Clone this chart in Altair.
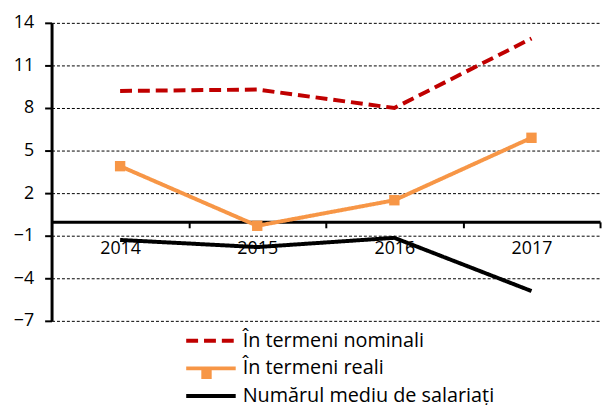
import altair as alt
import pandas as pd

years = ["2014", "2015", "2016", "2017"]
nominal = [9.2, 9.3, 8.0, 12.9]
real = [3.9, -0.3, 1.5, 5.9]
employees = [-1.3, -1.8, -1.15, -4.9]
series_names = ["În termeni nominali", "În termeni reali", "Numărul mediu de salariați"]
colors = ["#C00000", "#F79646", "#000000"]
dashes = [[12, 6], [1, 0], [1, 0]]
y_ticks = [-7, -4, -1, 2, 5, 8, 11, 14]

rows = []
for name, vals in zip(series_names, [nominal, real, employees]):
    for yr, v in zip(years, vals):
        rows.append({"year": yr, "value": v, "series": name})
df = pd.DataFrame(rows)

FONT = "Open Sans"
FS = 18
W, H = 554, 301

x_enc = alt.X(
    "year:N", title=None, sort=years,
    scale=alt.Scale(type="band", paddingInner=0, paddingOuter=0),
    axis=alt.Axis(
        orient="bottom", offset=-100, domainColor="black", domainWidth=3,
        tickColor="black", tickWidth=2, tickSize=6, tickBand="extent",
        labelAngle=0, labelFont=FONT, labelFontSize=FS, labelColor="black",
        labelPadding=12, grid=False,
    ),
)
y_enc = alt.Y(
    "value:Q", title=None,
    scale=alt.Scale(domain=[-7, 14], nice=False, zero=False),
    axis=alt.Axis(
        values=y_ticks, grid=True, gridDash=[3, 2], gridColor="black",
        gridWidth=1, gridOpacity=1, domainColor="black", domainWidth=3,
        tickColor="black", tickWidth=2, tickSize=7, labelFont=FONT,
        labelFontSize=FS, labelColor="black", labelPadding=11,
    ),
)

legend = alt.Legend(
    title=None, orient="none", legendX=151, legendY=311,
    labelFont=FONT, labelFontSize=20, labelColor="black", labelLimit=0,
    labelOffset=22, symbolSize=100, symbolStrokeWidth=4, rowPadding=8,
    symbolType="M-5,0H5",
)

lines = alt.Chart(df).mark_line(strokeWidth=4).encode(
    x=x_enc,
    y=y_enc,
    color=alt.Color("series:N", scale=alt.Scale(domain=series_names, range=colors), legend=legend),
    strokeDash=alt.StrokeDash("series:N", scale=alt.Scale(domain=series_names, range=dashes), legend=legend),
)

points = alt.Chart(df).transform_filter(
    alt.datum.series == series_names[1]
).mark_point(shape="square", filled=True, size=110, color="#F79646", opacity=1).encode(
    x=x_enc, y=y_enc,
    shape=alt.Shape(
        "series:N",
        scale=alt.Scale(domain=[series_names[1]], range=["square"]),
        legend=alt.Legend(
            title=None, orient="none", legendX=151, legendY=349,
            labelExpr="''", symbolSize=110, symbolStrokeWidth=0,
            symbolFillColor="#F79646", symbolOpacity=1,
        ),
    ),
)

chart = alt.layer(lines, points).properties(
    width=W, height=H,
    autosize="none",
    padding={"left": 44, "top": 13, "right": 4, "bottom": 83},
).configure_view(stroke=None)

chart.save("out.html", embed_options={"renderer": "svg", "actions": False})
